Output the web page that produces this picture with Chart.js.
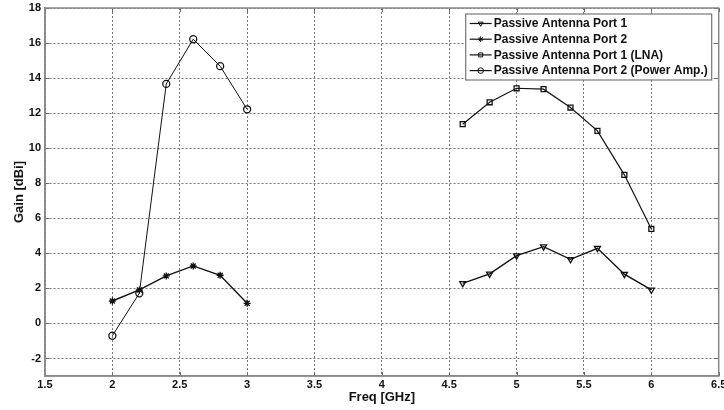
<!DOCTYPE html>
<html>
<head>
<meta charset="utf-8">
<script src="https://cdn.jsdelivr.net/npm/chart.js@4.4.0/dist/chart.umd.min.js"></script>
<style>
  html, body { margin: 0; padding: 0; background: #fff; }
</style>
</head>
<body>
<canvas id="myChart" width="724" height="410"></canvas>
<script>
// frequencies of the two measured bands [GHz]
var lowFreq = [2.0, 2.2, 2.4, 2.6, 2.8, 3.0];
var highFreq = [4.6, 4.8, 5.0, 5.2, 5.4, 5.6, 5.8, 6.0];

// gain values [dBi]
var port1Gain = [2.29, 2.83, 3.87, 4.38, 3.66, 4.29, 2.81, 1.91];
var port2Gain = [1.28, 1.91, 2.71, 3.28, 2.75, 1.15];
var port1LnaGain = [11.37, 12.62, 13.42, 13.37, 12.32, 10.99, 8.48, 5.39];
var port2PaGain = [-0.70, 1.72, 13.67, 16.22, 14.68, 12.22];

var xTicks = [1.5, 2, 2.5, 3, 3.5, 4, 4.5, 5, 5.5, 6, 6.5];
var yTicks = [-2, 0, 2, 4, 6, 8, 10, 12, 14, 16, 18];

var FONT = "'Liberation Sans', Arial, sans-serif";

// pairs x and y arrays into {x, y} points
function toPoints(xs, ys) {
  return xs.map(function (x, i) { return { x: x, y: ys[i] }; });
}

function series(label, xs, ys, style, rot, width) {
  return {
    label: label,
    data: toPoints(xs, ys),
    showLine: true,
    borderColor: '#111',
    borderWidth: width,
    pointStyle: style,
    pointRotation: rot,
    pointRadius: 3.5,
    pointBorderWidth: 1.3,
    pointBorderColor: '#111',
    pointBackgroundColor: 'rgba(0,0,0,0)',
    tension: 0
  };
}

// MATLAB style box, inner ticks and boxed legend
var matlabBox = {
  id: 'matlabBox',
  afterDraw: function (chart) {
    var ctx = chart.ctx;
    var a = chart.chartArea;
    var xs = chart.scales.x, ys = chart.scales.y;
    ctx.save();
    ctx.strokeStyle = '#666';
    ctx.lineWidth = 1;
    ctx.setLineDash([]);
    ctx.beginPath();
    xTicks.forEach(function (v) {
      var px = Math.round(xs.getPixelForValue(v)) + 0.5;
      ctx.moveTo(px, a.bottom); ctx.lineTo(px, a.bottom - 4);
      ctx.moveTo(px, a.top); ctx.lineTo(px, a.top + 4);
    });
    yTicks.forEach(function (v) {
      var py = Math.round(ys.getPixelForValue(v)) + 0.5;
      ctx.moveTo(a.left, py); ctx.lineTo(a.left + 4, py);
      ctx.moveTo(a.right, py); ctx.lineTo(a.right - 4, py);
    });
    ctx.stroke();

    ctx.strokeStyle = '#888';
    ctx.lineWidth = 1.5;
    ctx.strokeRect(a.left, a.top, a.right - a.left, a.bottom - a.top);

    // legend
    var bx = a.right - 253, by = a.top + 6, bw = 253 - 7, bh = 66;
    ctx.fillStyle = '#fff';
    ctx.fillRect(bx, by, bw, bh);
    ctx.strokeStyle = '#777';
    ctx.lineWidth = 1.2;
    ctx.strokeRect(bx, by, bw, bh);
    ctx.font = 'bold 12px ' + FONT;
    ctx.textBaseline = 'middle';
    chart.data.datasets.forEach(function (ds, i) {
      var ry = by + 9.5 + i * 15.7;
      ctx.strokeStyle = '#111';
      ctx.lineWidth = 1.2;
      ctx.beginPath();
      ctx.moveTo(bx + 4, ry); ctx.lineTo(bx + 26, ry);
      ctx.stroke();
      ctx.fillStyle = 'rgba(0,0,0,0)';
      ctx.lineWidth = 1;
      Chart.helpers.drawPoint(ctx, {
        pointStyle: ds.pointStyle, rotation: ds.pointRotation,
        radius: 2.8, borderWidth: 1
      }, bx + 15, ry);
      ctx.fillStyle = '#111';
      ctx.fillText(ds.label, bx + 28, ry + 0.5);
    });
    ctx.restore();
  }
};

function plainLabel(v) { return String(v); }

var ctx = document.getElementById('myChart').getContext('2d');
var chart = new Chart(ctx, {
  type: 'scatter',
  data: {
    datasets: [
      series('Passive Antenna Port 1', highFreq, port1Gain, 'triangle', 180, 1.4),
      series('Passive Antenna Port 2', lowFreq, port2Gain, 'star', 0, 1.4),
      series('Passive Antenna Port 1 (LNA)', highFreq, port1LnaGain, 'rect', 0, 1.2),
      series('Passive Antenna Port 2 (Power Amp.)', lowFreq, port2PaGain, 'circle', 0, 1)
    ]
  },
  options: {
    responsive: false,
    animation: false,
    layout: { padding: { top: 8, right: 5, left: 0, bottom: 0 } },
    plugins: {
      legend: { display: false },
      tooltip: { enabled: false }
    },
    scales: {
      x: {
        type: 'linear',
        min: 1.5,
        max: 6.5,
        afterBuildTicks: function (scale) {
          scale.ticks = xTicks.map(function (v) { return { value: v }; });
        },
        afterFit: function (scale) {
          scale.height = 34;
          scale.paddingLeft = 0;
          scale.paddingRight = 0;
        },
        ticks: {
          maxRotation: 0,
          autoSkip: false,
          padding: 2,
          color: '#111',
          callback: plainLabel,
          font: { family: FONT, size: 11, weight: 'bold' }
        },
        grid: { color: '#777', lineWidth: 1, drawTicks: false },
        border: { color: '#888', width: 1.5, dash: [2, 2] },
        title: {
          display: true,
          text: 'Freq [GHz]',
          color: '#111',
          font: { family: FONT, size: 13, weight: 'bold' },
          padding: { top: 0, bottom: 5 }
        }
      },
      y: {
        type: 'linear',
        min: -3,
        max: 18,
        afterBuildTicks: function (scale) {
          scale.ticks = yTicks.map(function (v) { return { value: v }; });
        },
        afterFit: function (scale) {
          scale.width = 45;
          scale.paddingTop = 0;
          scale.paddingBottom = 0;
        },
        ticks: {
          padding: 4,
          color: '#111',
          callback: plainLabel,
          font: { family: FONT, size: 11, weight: 'bold' }
        },
        grid: { color: '#777', lineWidth: 1, drawTicks: false },
        border: { color: '#888', width: 1.5, dash: [2, 2] },
        title: {
          display: true,
          text: 'Gain [dBi]',
          color: '#111',
          font: { family: FONT, size: 13, weight: 'bold' },
          padding: { top: 12, bottom: 0 }
        }
      }
    }
  },
  plugins: [matlabBox]
});
</script>
</body>
</html>
